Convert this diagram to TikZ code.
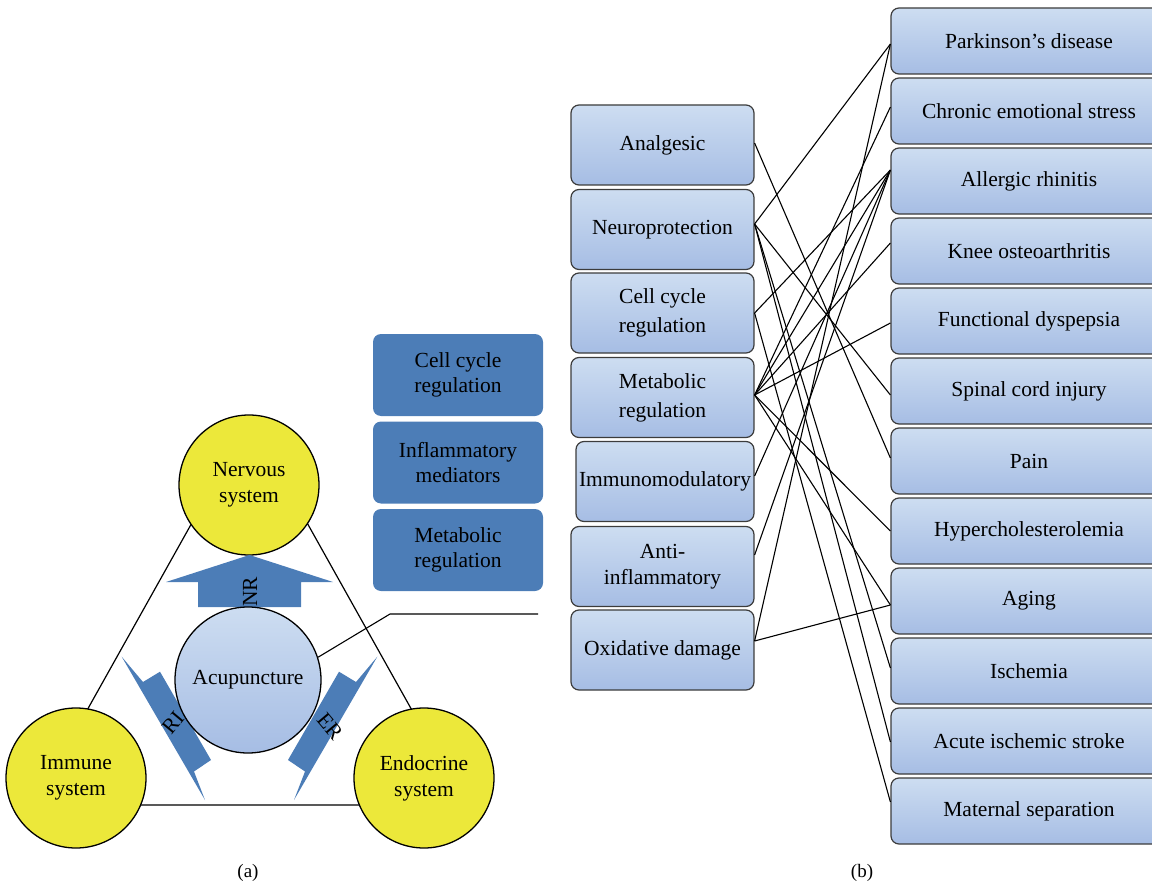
\documentclass[tikz,border=0pt]{standalone}
\usepackage{fontspec}
\setmainfont{Liberation Serif}
\definecolor{yel}{RGB}{236,232,58}
\definecolor{dblue}{RGB}{76,125,183}
\definecolor{lbtop}{RGB}{205,221,241}
\definecolor{lbmid}{RGB}{198,215,239}
\definecolor{lbbot}{RGB}{166,189,228}
\definecolor{edgegray}{RGB}{60,60,60}
\begin{document}
\begin{tikzpicture}[x=1pt,y=-1pt,
  font=\fontsize{21.5}{26}\selectfont,
  yelc/.style={circle, draw=black, line width=1.3pt, fill=yel, minimum size=140pt, inner sep=0pt, align=center},
  acuc/.style={circle, draw=black, line width=1.3pt, top color=lbtop, middle color=lbmid, bottom color=lbbot, minimum size=146pt, inner sep=0pt, align=center},
  dbox/.style={rounded corners=8pt, fill=dblue, minimum width=170pt, minimum height=82pt, inner sep=0pt, align=center, font=\fontsize{21.5}{25}\selectfont},
  mbox/.style={rounded corners=8pt, draw=edgegray, line width=1.2pt, top color=lbtop, middle color=lbmid, bottom color=lbbot, minimum width=183pt, minimum height=80pt, inner sep=0pt, align=center, font=\fontsize{21.5}{29}\selectfont},
  rbox/.style={mbox, minimum width=276pt, minimum height=66pt},
  link/.style={draw=black, line width=1.1pt},
  tri/.style={draw=black, line width=1.2pt},
  bluearrow/.style={fill=dblue}
]
\useasboundingbox (0,0) rectangle (1152,888);
\clip (0,0) rectangle (1152,888);

% ---------- (a) ----------
\coordinate (tA) at (249.5,420);
\coordinate (tB) at (34,805);
\coordinate (tC) at (465,805);
\draw[tri] (tA) -- (tB) -- (tC) -- cycle;

\node[yelc] (nervous) at (249,485) {Nervous\\system};
\node[yelc] (immune) at (76,778) {Immune\\system};
\node[yelc] (endocrine) at (424,778) {Endocrine\\system};

% arrows
\fill[bluearrow] (198,607) -- (198,582) -- (166,582) -- (249.5,555) -- (333,582) -- (301,582) -- (301,607) -- cycle;
\fill[bluearrow] (121.7,656.7) -- (143,682) -- (160,671.7) -- (211,760) -- (194,771.5) -- (205,800) -- cycle;
\fill[bluearrow] (377.3,656.7) -- (356,682) -- (339,671.7) -- (288,760) -- (305,771.5) -- (294,800) -- cycle;
\node[rotate=90] (nr) at (250,592) {NR};
\node[rotate=50] (ri) at (173,723) {RI};
\node[rotate=-50] (er) at (330,726) {ER};

\node[acuc] (acu) at (248,680) {Acupuncture};

\coordinate (callbend) at (390,614);
\coordinate (callend) at (538,614);
\draw[link] (acu.18) -- (callbend) -- (callend);

\node[dbox] (bcell) at (458,375) {Cell cycle\\regulation};
\node[dbox] (binfl) at (458,462.5) {Inflammatory\\mediators};
\node[dbox] (bmeta) at (458,550) {Metabolic\\regulation};

\node (capa) at (248,873) {\fontsize{19}{22}\selectfont(a)};

% ---------- (b) middle column ----------
\node[mbox] (analgesic) at (662.5,145) {Analgesic};
\node[mbox] (neuro) at (662.5,229.5) {Neuroprotection};
\node[mbox] (cell) at (662.5,313) {Cell cycle\\regulation};
\node[mbox] (metab) at (662.5,397.5) {Metabolic\\regulation};
\node[mbox, minimum width=178pt] (immuno) at (665,481.5) {Immunomodulatory};
\node[mbox] (anti) at (662.5,566.5) {Anti-\\[-3pt]inflammatory};
\node[mbox] (oxid) at (662.5,650) {Oxidative damage};

% ---------- (b) right column ----------
\node[rbox] (park) at (1029,41) {Parkinson's disease};
\node[rbox] (chronic) at (1029,111) {Chronic emotional stress};
\node[rbox] (allergic) at (1029,181) {Allergic rhinitis};
\node[rbox] (knee) at (1029,251) {Knee osteoarthritis};
\node[rbox] (func) at (1029,321) {Functional dyspepsia};
\node[rbox] (spinal) at (1029,391) {Spinal cord injury};
\node[rbox] (pain) at (1029,461) {Pain};
\node[rbox] (hyper) at (1029,531) {Hypercholesterolemia};
\node[rbox] (aging) at (1029,601) {Aging};
\node[rbox] (isch) at (1029,671) {Ischemia};
\node[rbox] (acute) at (1029,741) {Acute ischemic stroke};
\node[rbox] (maternal) at (1029,811) {Maternal separation};

\node (capb) at (862,873) {\fontsize{19}{22}\selectfont(b)};

% endpoints
\coordinate (analgesicR) at ([yshift=2pt]analgesic.east);
\coordinate (neuroR) at ([yshift=5.5pt]neuro.east);
\coordinate (cellR) at (cell.east);
\coordinate (metabR) at ([yshift=2.5pt]metab.east);
\coordinate (immunoR) at ([yshift=5.5pt]immuno.east);
\coordinate (antiR) at ([yshift=11.5pt]anti.east);
\coordinate (oxidR) at ([yshift=9pt]oxid.east);

\coordinate (parkL) at ([yshift=-3pt]park.west);
\coordinate (chronicL) at ([yshift=4pt]chronic.west);
\coordinate (allergicL) at ([yshift=11pt]allergic.west);
\coordinate (kneeL) at ([yshift=8pt]knee.west);
\coordinate (funcL) at ([yshift=-2pt]func.west);
\coordinate (spinalL) at ([yshift=-4pt]spinal.west);
\coordinate (painL) at ([yshift=3pt]pain.west);
\coordinate (hyperL) at (hyper.west);
\coordinate (agingL) at ([yshift=-4pt]aging.west);
\coordinate (ischL) at ([yshift=3pt]isch.west);
\coordinate (acuteL) at ([yshift=-1pt]acute.west);
\coordinate (maternalL) at ([yshift=9pt]maternal.west);

\draw[link] (analgesicR) -- (painL);
\draw[link] (neuroR) -- (parkL);
\draw[link] (neuroR) -- (spinalL);
\draw[link] (neuroR) -- (ischL);
\draw[link] (neuroR) -- (acuteL);
\draw[link] (cellR) -- (allergicL);
\draw[link] (cellR) -- (maternalL);
\draw[link] (metabR) -- (chronicL);
\draw[link] (metabR) -- (allergicL);
\draw[link] (metabR) -- (kneeL);
\draw[link] (metabR) -- (funcL);
\draw[link] (metabR) -- (hyperL);
\draw[link] (metabR) -- (agingL);
\draw[link] (immunoR) -- (allergicL);
\draw[link] (antiR) -- (allergicL);
\draw[link] (oxidR) -- (parkL);
\draw[link] (oxidR) -- (agingL);
\end{tikzpicture}
\end{document}
